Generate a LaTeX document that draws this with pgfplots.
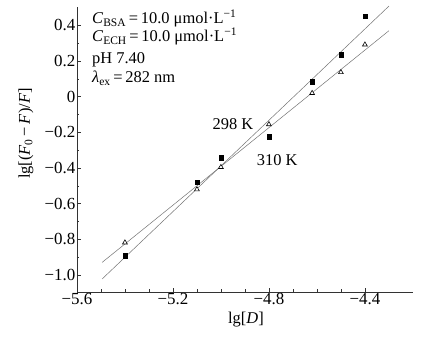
\documentclass[border=0pt]{standalone}
\usepackage{pgfplots}
\pgfplotsset{compat=1.18}
\usepackage{fontspec}
\setmainfont{Liberation Serif}
\newcommand{\bigfont}{\fontsize{16.5}{19}\selectfont}
\newcommand{\tickfont}{\fontsize{17}{19}\selectfont}
\begin{document}
\begin{tikzpicture}
\begin{axis}[
  scale only axis, width=336bp, height=285bp,
  xmin=-5.6, xmax=-4.2, ymin=-1.095, ymax=0.503,
  axis lines=left, axis line style={-, black!80, line width=0.8pt},
  tick align=inside,
  xtick={-5.6,-5.2,-4.8,-4.4},
  xticklabels={\textrm{−5.6},\textrm{−5.2},\textrm{−4.8},\textrm{−4.4}},
  minor x tick num=3,
  ytick={-1.0,-0.8,-0.6,-0.4,-0.2,0,0.2,0.4},
  yticklabels={\textrm{−1.0},\textrm{−0.8},\textrm{−0.6},\textrm{−0.4},\textrm{−0.2},\textrm{0},\textrm{0.2},\textrm{0.4}},
  minor y tick num=1,
  major tick length=4bp, minor tick length=2.5bp,
  tick style={black!80, line width=0.6pt},
  tick label style={font=\tickfont},
  xticklabel style={inner sep=1.5pt},
  yticklabel style={inner sep=1.5pt},
  clip=false,
  xlabel={lg[\textit{D}]},
  ylabel={lg[(\textit{F}\textsubscript{0}\,−\,\textit{F})/\textit{F}]},
  xlabel style={at={(rel axis cs:0.503,-0.098)}, anchor=center, font=\bigfont},
  ylabel style={at={(rel axis cs:-0.152,0.556)}, anchor=center, rotate=0, font=\bigfont},
]
\addplot[only marks, mark=square*, mark size=2.2pt, black] coordinates {
  (-5.40,-0.892) (-5.10,-0.480) (-5.00,-0.342) (-4.80,-0.225)
  (-4.62,0.084) (-4.50,0.235) (-4.40,0.452)
};
\addplot[only marks, mark=triangle*, mark size=2.8pt,
  mark options={fill=white, draw=black, line width=0.6pt}] coordinates {
  (-5.40,-0.818) (-5.10,-0.520) (-5.00,-0.395) (-4.80,-0.155)
  (-4.62,0.020) (-4.50,0.137) (-4.40,0.292)
};
\addplot[black!55, line width=0.5pt] coordinates {(-5.495,-1.022) (-4.30,0.508)};
\addplot[black!55, line width=0.5pt] coordinates {(-5.495,-0.929) (-4.30,0.370)};
\node[anchor=base west, font=\bigfont, inner sep=0pt] at (axis cs:-5.5375,0.408) {\textit{C}\textsubscript{BSA}\,=\,10.0 μmol·L\textsuperscript{−1}};
\node[anchor=base west, font=\bigfont, inner sep=0pt] at (axis cs:-5.5375,0.307) {\textit{C}\textsubscript{ECH}\,=\,10.0 μmol·L\textsuperscript{−1}};
\node[anchor=base west, font=\bigfont, inner sep=0pt] at (axis cs:-5.5375,0.184) {pH 7.40};
\node[anchor=base west, font=\bigfont, inner sep=0pt] at (axis cs:-5.5375,0.078) {\textit{λ}\textsubscript{ex}\,=\,282 nm};
\node[anchor=west, inner sep=0pt, font=\bigfont] at (axis cs:-5.035,-0.151) {298 K};
\node[anchor=west, inner sep=0pt, font=\bigfont] at (axis cs:-4.851,-0.358) {310 K};
\coordinate (bbA) at (rel axis cs:-0.229,-0.1895);
\coordinate (bbB) at (rel axis cs:1.036,1.0246);
\end{axis}
\pgfresetboundingbox
\useasboundingbox (bbA) rectangle (bbB);
\end{tikzpicture}
\end{document}
